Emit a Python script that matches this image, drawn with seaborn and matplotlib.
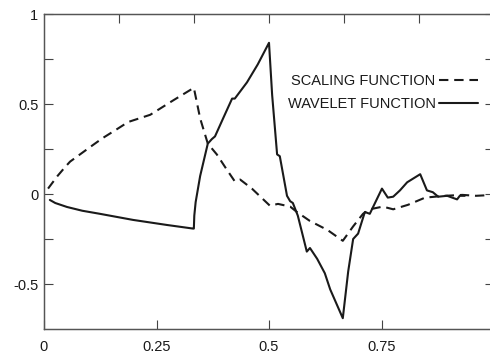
import numpy as np
import pandas as pd
import seaborn as sns
import matplotlib
matplotlib.use("Agg")
import matplotlib.pyplot as plt

# scaling function (dashed)
scaling_x = [0.009, 0.03, 0.047, 0.058, 0.08, 0.102, 0.13, 0.162, 0.187, 0.236, 0.287, 0.333,
             0.347, 0.364, 0.384, 0.405, 0.424, 0.436, 0.462, 0.502, 0.52, 0.547, 0.562, 0.591,
             0.63, 0.664, 0.687, 0.709, 0.724, 0.753, 0.776, 0.809, 0.847, 0.891, 0.93, 0.96, 1.0]
scaling_y = [0.03, 0.10, 0.15, 0.18, 0.22, 0.26, 0.31, 0.36, 0.40, 0.44, 0.52, 0.59,
             0.42, 0.28, 0.22, 0.14, 0.07, 0.08, 0.03, -0.065, -0.055, -0.07, -0.10, -0.15,
             -0.20, -0.26, -0.18, -0.11, -0.085, -0.07, -0.085, -0.06, -0.02, -0.01, -0.005, -0.01, -0.005]

# wavelet function (solid)
wavelet_x = [0.013, 0.025, 0.051, 0.085, 0.124, 0.198, 0.273, 0.331, 0.333, 0.334, 0.337, 0.347,
             0.364, 0.373, 0.38, 0.398, 0.418, 0.424, 0.451, 0.475, 0.500, 0.507, 0.518, 0.524,
             0.54, 0.547, 0.553, 0.564, 0.584, 0.591, 0.607, 0.624, 0.636, 0.664, 0.676, 0.687,
             0.698, 0.713, 0.724, 0.751, 0.764, 0.776, 0.791, 0.807, 0.836, 0.851, 0.864, 0.876,
             0.896, 0.918, 0.924, 0.935]
wavelet_y = [-0.033, -0.05, -0.072, -0.093, -0.11, -0.144, -0.172, -0.192, -0.192, -0.12, -0.045,
             0.10, 0.28, 0.305, 0.32, 0.42, 0.53, 0.53, 0.62, 0.72, 0.84, 0.55, 0.22, 0.21,
             -0.01, -0.04, -0.05, -0.12, -0.32, -0.30, -0.36, -0.44, -0.53, -0.69, -0.43, -0.25,
             -0.22, -0.10, -0.11, 0.03, -0.02, -0.015, 0.02, 0.065, 0.11, 0.02, 0.01, -0.015,
             -0.01, -0.03, -0.01, -0.01]

x_ticks = [0, 0.25, 0.5, 0.75]
x_ticklabels = ["0", "0.25", "0.5", "0.75"]
y_ticks = [-0.5, 0, 0.5, 1]
y_ticklabels = ["-0.5", "0", "0.5", "1"]
y_minor = [-0.25, 0.25, 0.75]
top_ticks = [1 / 6, 2 / 6, 3 / 6, 4 / 6, 5 / 6]

sns.set_style("ticks")
plt.rcParams["font.family"] = ["Liberation Sans", "DejaVu Sans"]

scaling_df = pd.DataFrame({"x": scaling_x, "y": scaling_y})
wavelet_df = pd.DataFrame({"x": wavelet_x, "y": wavelet_y})

fig = plt.figure(figsize=(4.9, 3.56), dpi=100)
# axes box runs a bit past the right edge of the picture, like the reference
ax = fig.add_axes([44 / 490, 27 / 356, 450 / 490, 315 / 356])

sns.lineplot(data=scaling_df, x="x", y="y", ax=ax, color="#1a1a1a", lw=1.5,
             estimator=None, sort=False, label="SCALING FUNCTION")
ax.lines[-1].set_dashes((4.5, 2.8))
sns.lineplot(data=wavelet_df, x="x", y="y", ax=ax, color="#1a1a1a", lw=1.5,
             estimator=None, sort=False, label="WAVELET FUNCTION")

ax.set_xlim(0, 1)
ax.set_ylim(-0.75, 1)
ax.set_xlabel("")
ax.set_ylabel("")
ax.set_xticks(x_ticks)
ax.set_xticklabels(x_ticklabels)
ax.set_yticks(y_ticks)
ax.set_yticklabels(y_ticklabels)
ax.set_yticks(y_minor, minor=True)
ax.tick_params(axis="both", which="both", direction="in", length=6.5, width=0.8,
               color="#444444", labelsize=10.5, labelcolor="#1a1a1a")
ax.tick_params(axis="y", which="both", right=True, pad=4)
ax.tick_params(axis="x", pad=8)

# top ticks sit at sixths, not at the bottom positions
top = ax.twiny()
top.set_xlim(0, 1)
top.set_xticks(top_ticks)
top.set_xticklabels([])
top.tick_params(axis="x", direction="in", length=6.5, width=0.8, color="#444444")

for a in (ax, top):
    for s in a.spines.values():
        s.set_visible(True)
        s.set_linewidth(0.9)
        s.set_color("#555555")

leg = ax.legend(loc="upper right", bbox_to_anchor=(478 / 490, 1 - 74 / 356),
                bbox_transform=fig.transFigure, frameon=False, markerfirst=False,
                fontsize=10.5, handlelength=2.7, handletextpad=0.2, labelspacing=0.6,
                borderpad=0, borderaxespad=0)
for t in leg.get_texts():
    t.set_color("#1a1a1a")

fig.savefig("out.png", dpi=100)
